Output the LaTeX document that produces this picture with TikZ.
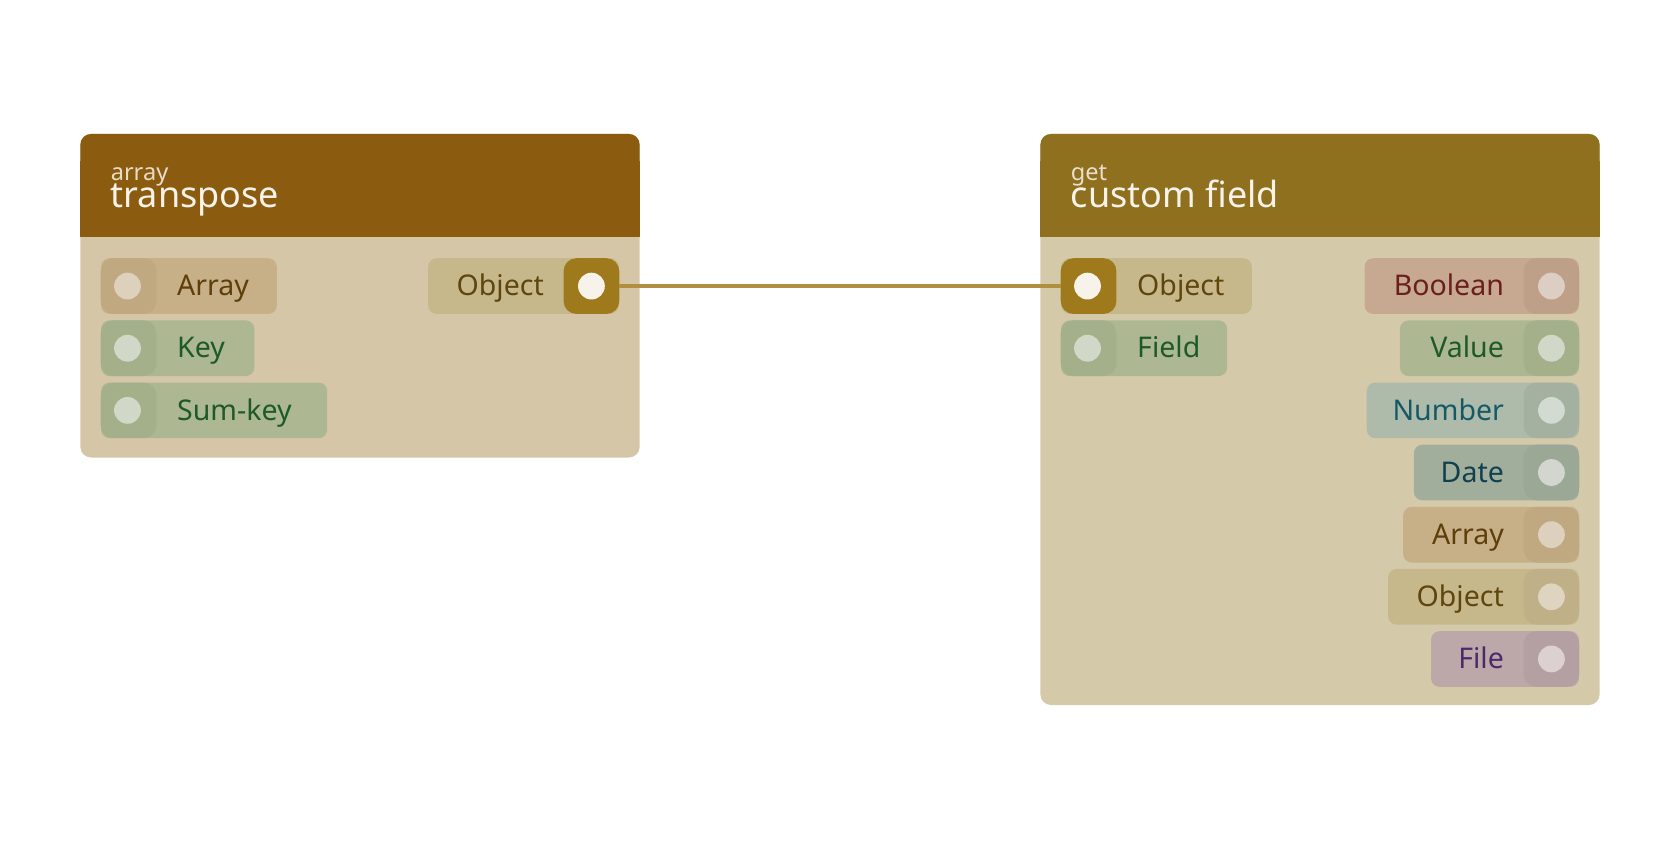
\documentclass[tikz,border=0pt]{standalone}
\usepackage{fontspec}
\setmainfont{Noto Sans}
\begin{document}
\begin{tikzpicture}[x=0.5pt,y=-0.5pt,
  pill/.style={draw=none,rounded corners=4pt,minimum height=26pt,inner sep=0pt,anchor=west},
  port/.style={draw=none,rounded corners=6pt,minimum width=26pt,minimum height=26pt,inner sep=0pt},
  dot/.style={circle,draw=none,minimum size=12.5pt,inner sep=0pt},
  lbl/.style={font=\fontsize{13.3}{15}\selectfont,inner sep=0pt},
  edge/.style={draw=edgec,line width=1.5pt}]
\definecolor{hdA}{HTML}{8B5C10}\definecolor{hdB}{HTML}{8E701E}
\definecolor{bdA}{HTML}{D5C6A8}\definecolor{bdB}{HTML}{D4CAAA}
\definecolor{arP}{HTML}{C7B088}\definecolor{arQ}{HTML}{C0A880}\definecolor{arT}{HTML}{5E3E0A}\definecolor{arD}{HTML}{DDD0BC}
\definecolor{grP}{HTML}{ADB892}\definecolor{grQ}{HTML}{A4B08A}\definecolor{grT}{HTML}{1E5A28}\definecolor{grD}{HTML}{D2D8C8}
\definecolor{boP}{HTML}{C7A890}\definecolor{boQ}{HTML}{BEA088}\definecolor{boT}{HTML}{6A1E1E}\definecolor{boD}{HTML}{DDCEC4}
\definecolor{nuP}{HTML}{AEBAAA}\definecolor{nuQ}{HTML}{A4B0A0}\definecolor{nuT}{HTML}{145A66}\definecolor{nuD}{HTML}{D2DAD2}
\definecolor{daP}{HTML}{A2AE9C}\definecolor{daQ}{HTML}{9CA896}\definecolor{daT}{HTML}{0E4050}\definecolor{daD}{HTML}{D2D6CE}
\definecolor{obP}{HTML}{C7B88C}\definecolor{obQ}{HTML}{C0B088}\definecolor{obT}{HTML}{5E460E}\definecolor{obD}{HTML}{DED4C0}
\definecolor{fiP}{HTML}{BCA8A8}\definecolor{fiQ}{HTML}{B4A0A2}\definecolor{fiT}{HTML}{4A2A6A}\definecolor{fiD}{HTML}{DCD0D0}
\definecolor{gold}{HTML}{9E7A1C}\definecolor{edgec}{HTML}{B09040}\definecolor{wht}{HTML}{F8F3EA}
\useasboundingbox (0,0) rectangle (1568,784);
% left node
\fill[bdA,rounded corners=5pt] (75,125) rectangle (597,427);
\fill[hdA,rounded corners=5pt] (75,125) rectangle (597,170);
\fill[hdA] (75,150) rectangle (597,221);
\node[anchor=base west,inner sep=0pt,text=wht!85!hdA,font=\fontsize{11}{12}\selectfont] (t1a) at (103,168) {array};
\node[anchor=base west,inner sep=0pt,text=wht,font=\fontsize{16.8}{18}\selectfont] (t1b) at (103,194) {transpose};
% right node
\fill[bdB,rounded corners=5pt] (971,125) rectangle (1493,658);
\fill[hdB,rounded corners=5pt] (971,125) rectangle (1493,170);
\fill[hdB] (971,150) rectangle (1493,221);
\node[anchor=base west,inner sep=0pt,text=wht!85!hdB,font=\fontsize{11}{12}\selectfont] (t2a) at (999,168) {get};
\node[anchor=base west,inner sep=0pt,text=wht,font=\fontsize{16.8}{18}\selectfont] (t2b) at (999,194) {custom field};
\newcommand\inpin[6]{%
  \node[pill,fill=#5P,minimum width=#3*0.5pt] (#1) at (#2,#4) {};
  \node[port,fill=#5Q] (#1p) at (#2+26,#4) {};
  \node[dot,fill=#5D] (#1d) at (#2+25,#4) {};
  \node[lbl,anchor=base west,text=#5T] (#1t) at (#2+71,#4+9) {#6};}
\newcommand\outpin[6]{%
  \node[pill,anchor=east,fill=#5P,minimum width=#3*0.5pt] (#1) at (#2,#4) {};
  \node[port,fill=#5Q] (#1p) at (#2-26,#4) {};
  \node[dot,fill=#5D] (#1d) at (#2-26,#4) {};
  \node[lbl,anchor=base east,text=#5T] (#1t) at (#2-70,#4+9) {#6};}
\inpin{a1}{94}{164}{267}{ar}{Array}
\inpin{a2}{94}{143}{325}{gr}{Key}
\inpin{a3}{94}{211}{383}{gr}{Sum-key}
\node[pill,anchor=east,fill=obP,minimum width=89pt] (ao) at (578,267) {};
\node[port,fill=gold] (aop) at (552,267) {};
\node[dot,fill=wht] (aod) at (552,267) {};
\node[lbl,anchor=base east,text=obT] (aot) at (508,276) {Object};
\node[pill,fill=obP,minimum width=89pt] (bi) at (990,267) {};
\node[port,fill=gold] (bip) at (1016,267) {};
\node[dot,fill=wht] (bid) at (1015,267) {};
\node[lbl,anchor=base west,text=obT] (bit) at (1061,276) {Object};
\inpin{b2}{990}{155}{325}{gr}{Field}
\outpin{o1}{1474}{200}{267}{bo}{Boolean}
\outpin{o2}{1474}{167}{325}{gr}{Value}
\outpin{o3}{1474}{198}{383}{nu}{Number}
\outpin{o4}{1474}{154}{441}{da}{Date}
\outpin{o5}{1474}{164}{499}{ar}{Array}
\outpin{o6}{1474}{178}{557}{ob}{Object}
\outpin{o7}{1474}{138}{615}{fi}{File}
\draw[edge] (ao.east) -- (bi.west);
\end{tikzpicture}
\end{document}
